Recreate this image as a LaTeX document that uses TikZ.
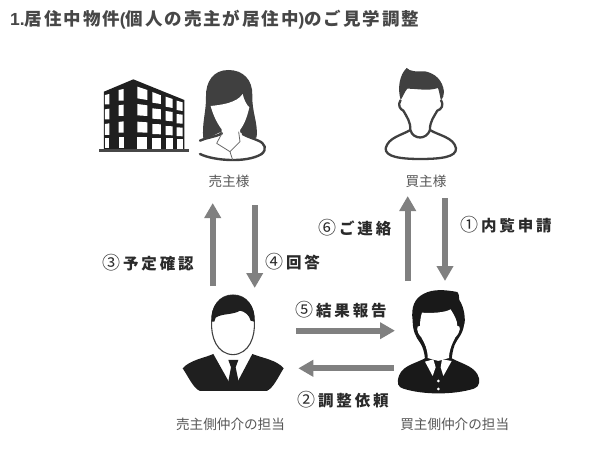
\documentclass[tikz,border=0pt]{standalone}
\usepackage{fontspec}
\usetikzlibrary{arrows.meta}
\setmainfont{Noto Sans CJK JP}
\newfontfamily\jpsp[LetterSpace=18]{Noto Sans CJK JP}
\newfontfamily\jpttl[LetterSpace=11]{Noto Sans CJK JP}
\newfontfamily\ltn{Liberation Sans}
\newcommand{\cnum}[1]{{\setmainfont{Noto Sans CJK JP}\normalfont\fontsize{18}{18}\selectfont #1}\kern3pt}
\newcommand{\ltnb}[1]{{\ltn\bfseries #1}}
\definecolor{arrowgray}{HTML}{808080}
\definecolor{ink}{HTML}{2A2A2A}
\definecolor{hairgray}{HTML}{404040}
\tikzset{
  flow/.style={arrowgray,line width=6pt,-{Triangle[width=16pt,length=15pt]}},
  steplabel/.style={inner sep=0pt,text=ink,font=\jpsp\bfseries\fontsize{15.5}{16}\selectfont},
  caption/.style={inner sep=0pt,text=black!66,font=\fontsize{13.6}{14}\selectfont},
  titletext/.style={inner sep=0pt,anchor=west,text=black!72,font=\jpttl\bfseries\fontsize{17.5}{18}\selectfont},
  zoomA/.style={shift={(90,50)},x=0.3333pt,y=-0.3333pt},
  zoomB/.style={shift={(360,50)},x=0.3333pt,y=-0.3333pt},
  zoomC/.style={shift={(160,280)},x=0.3333pt,y=-0.3333pt},
  zoomD/.style={shift={(370,280)},x=0.3333pt,y=-0.3333pt},
  window/.style={fill=white}
}
\begin{document}
\begin{tikzpicture}[x=1pt,y=-1pt]
\useasboundingbox (0,0) rectangle (600,452);
\fill[white] (0,0) rectangle (600,452);
\node[titletext] (title) at (10,20) {\ltnb{1.}居住中物件\ltnb{(}個人の売主が居住中\ltnb{)}のご見学調整};

% building
\begin{scope}[zoomA]
  \fill[black!88] (42,125) -- (130,88) -- (283,150) -- (283,298) -- (42,298) -- cycle;
  \fill[black!72] (28,297) rectangle (297,305);
  \foreach \a/\b/\c/\d/\e/\f in {
    45/58/135/132/163/163, 86/101/120/117/152/152,
    45/58/178/176/208/208, 86/101/166/164/198/198,
    45/58/222/220/255/255, 86/101/216/214/248/248,
    45/58/263/263/294/294, 86/101/260/260/294/294,
    142/172/110/120/145/150, 187/213/126/136/158/162, 227/248/140/147/170/174, 260/278/152/157/180/183,
    142/172/162/166/196/198, 187/213/175/178/206/208, 227/248/183/186/212/214, 260/278/192/194/220/221,
    142/172/215/217/247/248, 187/213/222/223/252/253, 227/248/228/229/255/256, 260/278/232/233/258/259,
    142/172/260/260/296/296, 187/213/263/263/296/296, 227/248/265/265/296/296, 260/278/268/268/296/296}
    \fill[window] (\a,\c) -- (\b,\d) -- (\b,\f) -- (\a,\e) -- cycle;
\end{scope}

% seller (woman)
\begin{scope}[zoomA]
  \fill[hairgray] (415,60) .. controls (370,60) and (347,95) .. (348,140)
    .. controls (349,185) and (335,220) .. (340,266) -- (490,266) -- (500,262)
    .. controls (505,220) and (485,185) .. (487,135)
    .. controls (488,90) and (460,60) .. (415,60) -- cycle;
  \fill[white] (362,168) .. controls (390,165) and (440,160) .. (458,132)
    .. controls (462,150) and (470,165) .. (478,172)
    .. controls (472,200) and (462,225) .. (450,240) -- (452,258)
    -- (395,258) -- (395,238) .. controls (378,215) and (368,190) .. (362,168) -- cycle;
  \fill[white] (388,248) -- (452,248) -- (490,270) -- (490,330) -- (350,330) -- (340,272) -- cycle;
  \draw[hairgray,line width=2.4pt,line cap=round]
    (330,272) .. controls (350,262) and (375,262) .. (396,250);
  \draw[hairgray,line width=2.4pt,line cap=round]
    (330,312) .. controls (370,332) and (470,340) .. (515,312)
    .. controls (532,298) and (525,280) .. (505,272)
    .. controls (490,265) and (475,262) .. (458,252);
  \draw[black!60,line width=0.8pt,line join=round]
    (396,250) -- (380,280) -- (420,305) -- (450,275) -- (446,245)
    (420,305) -- (428,330);
\end{scope}

% buyer
\begin{scope}[zoomB]
  \draw[black!75,fill=white,line width=2.3pt,line join=round]
    (122,150) .. controls (112,165) and (120,178) .. (130,182)
    .. controls (140,200) and (152,215) .. (151,240)
    .. controls (125,256) and (85,262) .. (77,295)
    .. controls (75,320) and (120,327) .. (180,327)
    .. controls (240,327) and (290,322) .. (288,295)
    .. controls (282,262) and (235,256) .. (210,240)
    .. controls (209,215) and (222,200) .. (232,182)
    .. controls (245,178) and (252,165) .. (243,150);
  \draw[black!75,line width=2.3pt] (151,240) .. controls (160,270) and (200,270) .. (210,240);
  \fill[hairgray] (122,150) .. controls (112,115) and (118,75) .. (140,54)
    .. controls (150,65) and (170,65) .. (195,64)
    .. controls (225,70) and (248,90) .. (252,125)
    .. controls (252,135) and (249,145) .. (243,152)
    .. controls (240,140) and (238,125) .. (234,114)
    .. controls (205,124) and (170,116) .. (142,116)
    .. controls (134,125) and (130,138) .. (122,150) -- cycle;
\end{scope}

% seller's agent
\begin{scope}[zoomC]
  \fill[black!88] (160,222) .. controls (130,235) and (90,240) .. (68,265)
    .. controls (85,290) and (100,325) .. (120,333) -- (320,333)
    .. controls (340,325) and (355,290) .. (371,265)
    .. controls (350,240) and (310,235) .. (277,222) -- (224,322) -- (216,322) -- cycle;
  \fill[black!88] (205,240) -- (235,240) -- (227,262) -- (238,315) -- (220,328) -- (203,315) -- (213,262) -- cycle;
  \draw[black!75,fill=white,line width=1.1pt] (155,125) .. controls (152,170) and (170,222) .. (219,224)
    .. controls (268,222) and (286,170) .. (283,125)
    .. controls (283,80) and (260,45) .. (219,45)
    .. controls (178,45) and (155,80) .. (155,125) -- cycle;
  \fill[black!88] (155,125) .. controls (150,80) and (178,45) .. (219,45)
    .. controls (260,45) and (288,80) .. (283,125)
    -- (272,122) .. controls (268,105) and (255,95) .. (240,92)
    .. controls (220,105) and (185,100) .. (167,113) -- (163,125) -- cycle;
\end{scope}

% buyer's agent
\begin{scope}[zoomD]
  \fill[black!90] (170,232) .. controls (140,250) and (100,255) .. (88,285)
    .. controls (78,310) and (85,322) .. (100,326)
    .. controls (160,345) and (250,345) .. (312,326)
    .. controls (330,320) and (332,300) .. (322,282)
    .. controls (305,255) and (270,250) .. (240,232) -- cycle;
  \fill[black!90] (128,122) .. controls (122,80) and (135,55) .. (160,42)
    .. controls (190,25) and (230,30) .. (262,36)
    .. controls (270,45) and (265,55) .. (268,60)
    .. controls (285,85) and (287,125) .. (282,135)
    .. controls (278,165) and (262,175) .. (254,195)
    .. controls (248,210) and (247,225) .. (245,236) -- (165,236)
    .. controls (163,215) and (158,200) .. (150,188)
    .. controls (136,170) and (128,150) .. (128,122) -- cycle;
  \fill[white] (156,98) .. controls (185,100) and (225,98) .. (242,88)
    .. controls (252,105) and (262,120) .. (262,138)
    .. controls (273,135) and (273,155) .. (256,172)
    .. controls (246,192) and (238,207) .. (237,234)
    -- (205,243) -- (173,234)
    .. controls (173,207) and (165,192) .. (154,172)
    .. controls (138,155) and (138,135) .. (150,138)
    .. controls (150,125) and (152,110) .. (156,98) -- cycle;
  \fill[black!90] (192,243) -- (218,243) -- (213,262) -- (217,295) -- (193,295) -- (197,262) -- cycle;
  \fill[white] (165,245) -- (190,238) -- (197,262) -- (188,288) -- cycle;
  \fill[white] (245,243) -- (216,238) -- (212,262) -- (220,288) -- cycle;
  \fill[white] (205,303) circle (4.5);
  \fill[white] (205,327) circle (4.5);
\end{scope}

% captions
\node[caption] (c1) at (229,181.5) {売主様};
\node[caption] (c2) at (426,181) {買主様};
\node[caption] (c3) at (230.5,424) {売主側仲介の担当};
\node[caption] (c4) at (454.7,424) {買主側仲介の担当};

% connector ends
\coordinate (s3) at (212.7,286); \coordinate (e3) at (212.7,203);
\coordinate (s4) at (254.7,205); \coordinate (e4) at (254.7,288);
\coordinate (s6) at (407.7,281); \coordinate (e6) at (407.7,196);
\coordinate (s1) at (445,198);   \coordinate (e1) at (445,281);
\coordinate (s5) at (296,330.7); \coordinate (e5) at (395,330.7);
\coordinate (s2) at (394,368.3); \coordinate (e2) at (298.3,368.3);
\draw[flow] (s3) -- (e3);
\draw[flow] (s4) -- (e4);
\draw[flow] (s6) -- (e6);
\draw[flow] (s1) -- (e1);
\draw[flow] (s5) -- (e5);
\draw[flow] (s2) -- (e2);

% step labels
\node[steplabel,anchor=west] (l3) at (102,263) {\cnum{③}予定確認};
\node[steplabel,anchor=west] (l4) at (265,262) {\cnum{④}回答};
\node[steplabel,anchor=west] (l6) at (318,228) {\cnum{⑥}ご連絡};
\node[steplabel,anchor=west] (l1) at (460,225) {\cnum{①}内覧申請};
\node[steplabel,anchor=west] (l5) at (295,310) {\cnum{⑤}結果報告};
\node[steplabel,anchor=west] (l2) at (297,400) {\cnum{②}調整依頼};
\end{tikzpicture}
\end{document}
